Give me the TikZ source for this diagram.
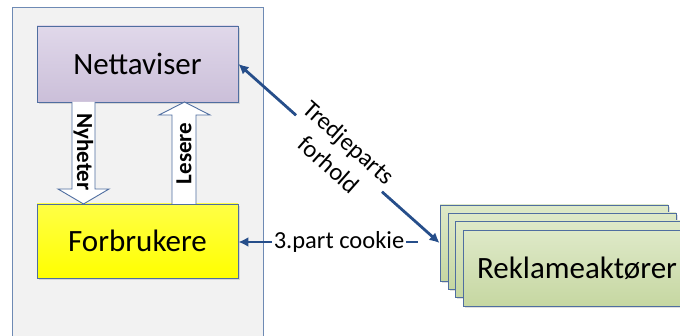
\documentclass[tikz,border=0pt]{standalone}
\usepackage{fontspec}
\setmainfont{Carlito}
\usetikzlibrary{arrows.meta,shadows,calc}
\definecolor{edgeblue}{RGB}{79,110,160}
\definecolor{linkblue}{RGB}{38,78,138}
\definecolor{panelgray}{RGB}{242,242,242}
\definecolor{paneledge}{RGB}{110,138,180}
\definecolor{lilacT}{RGB}{224,216,234}
\definecolor{lilacB}{RGB}{203,191,217}
\definecolor{yelT}{RGB}{255,255,70}
\definecolor{yelB}{RGB}{255,255,0}
\definecolor{greenT}{RGB}{222,233,200}
\definecolor{greenB}{RGB}{198,215,162}
\begin{document}
\begin{tikzpicture}[x=1pt,y=1pt,
  >={Latex[length=10pt,width=10pt]},
  box/.style={draw=edgeblue, line width=0.9pt, minimum width=201pt,
    drop shadow={shadow xshift=1.6pt,shadow yshift=-1.6pt,opacity=0.25},
    font=\fontsize{31}{36}\selectfont},
  stackbox/.style={box, minimum width=228pt, minimum height=76pt,
    top color=greenT, bottom color=greenB},
  link/.style={draw=linkblue, line width=2.8pt},
  blockarrow/.style={draw=edgeblue, fill=white, line width=0.9pt},
  tag/.style={font=\fontsize{24.5}{30}\selectfont},
  arrowtag/.style={font=\bfseries\fontsize{23}{26}\selectfont}
]
\useasboundingbox (0,0) rectangle (680,335);
\clip (0,0) rectangle (680,335);
\fill[white] (0,0) rectangle (680,335);

% grey panel holding the site and its readers
\filldraw[fill=panelgray, draw=paneledge, line width=0.8pt] (12,-10) rectangle (263,328);

\node[box, minimum height=76pt, top color=lilacT, bottom color=lilacB] (net) at (137.5,271) {Nettaviser};
\node[box, minimum height=74pt, top color=yelT, bottom color=yelB] (forb) at (137.5,94) {Forbrukere};

% block arrows between the two boxes
\filldraw[blockarrow] (72,233) -- (72,146) -- (58,146) -- (83.5,131) -- (109,146) -- (95,146) -- (95,233);
\node[arrowtag, rotate=-90] (nyh) at (83.5,183) {Nyheter};
\filldraw[blockarrow] (172,131) -- (172,220) -- (159,220) -- (184.5,233) -- (210,220) -- (196,220) -- (196,131);
\node[arrowtag, rotate=90] (les) at (184,181.5) {Lesere};

% stacked advertiser boxes, back to front
\node[stackbox] (r1) at (554,92) {};
\node[stackbox] (r2) at (562,84) {};
\node[stackbox] (r3) at (569,76) {};
\node[stackbox] (r4) at (577,67) {Reklameaktører};

% connections
\draw[link, <->] (net.east) -- node[sloped, fill=white, align=center, tag, inner sep=1pt] (tredje) {Tredjeparts\\forhold} (r1.west);

\node[tag, fill=white, inner sep=1.5pt] (cookie) at (339,93) {3.part cookie};
\coordinate (cend) at (418,93);
\draw[link, ->] (cookie.west) -- (cookie.west -| forb.east);
\draw[link] (cookie.east) -- (cend);
\end{tikzpicture}
\end{document}
